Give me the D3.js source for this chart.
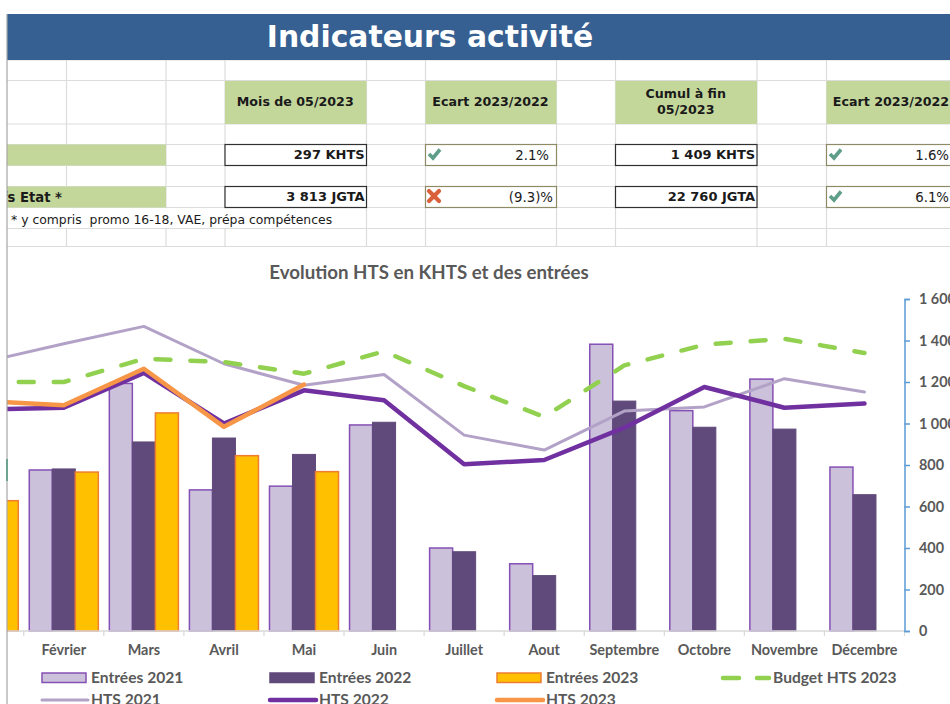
<!DOCTYPE html>
<html>
<head>
<meta charset="utf-8">
<script src="https://cdn.jsdelivr.net/npm/d3@7"></script>
<style>
  html, body { margin: 0; padding: 0; background: #fff; overflow: hidden; }
  svg { display: block; }
  .cell { font-family: "DejaVu Sans", sans-serif; fill: #1a1a1a; }
  .chart-text { font-family: Lato, sans-serif; fill: #595959; }
</style>
</head>
<body>
<svg id="sheet" width="950" height="704"></svg>
<script>
const months = ["Janvier", "Février", "Mars", "Avril", "Mai", "Juin", "Juillet", "Aout", "Septembre", "Octobre", "Novembre", "Décembre"];

// janvier 2021 et 2022 sont hors du cadre de la capture
const entrees2021 = [null, 776, 1193, 680, 698, 993, 400, 324, 1382, 1062, 1214, 790];
const entrees2022 = [null, 781, 911, 930, 851, 1006, 382, 267, 1108, 982, 973, 657];
const entrees2023 = [628, 766, 1051, 845, 768];

// HTS en KHTS, axe secondaire 0-400 masqué à gauche
const hts2021 = [324, 346, 367, 322, 296, 309, 236, 218, 265, 270, 304, 288];
const hts2022 = [267, 269, 311, 250, 290, 278, 201, 206, 245, 294, 269, 274];
const hts2023 = [277, 272, 316, 246, 297];
const budget2023 = [300, 300, 328, 324, 310, 337, 295, 258, 320, 345, 352, 335];

const rightTicks = [0, 200, 400, 600, 800, 1000, 1200, 1400, 1600];

const gridXs = [66.5, 166, 225, 366.5, 425.5, 556.5, 615.5, 757, 826.5];
const gridYs = [60, 80.5, 124, 144.5, 165.5, 186.5, 207.5, 228.5, 246.5];

const headerCells = [
    { x0: 225, x1: 366.5, lines: ["Mois de 05/2023"] },
    { x0: 425.5, x1: 556.5, lines: ["Ecart 2023/2022"] },
    { x0: 615.5, x1: 757, lines: ["Cumul à fin", "05/2023"] },
    { x0: 826.5, x1: 960, lines: ["Ecart 2023/2022"] }
];
const kpiRows = [
    { y0: 144.5, y1: 165.5, label: "", mois: "297 KHTS", ecartMois: "2.1%", okMois: true, cumul: "1 409 KHTS", ecartCumul: "1.6%", okCumul: true },
    { y0: 186.5, y1: 207.5, label: "fs Etat *", mois: "3 813 JGTA", ecartMois: "(9.3)%", okMois: false, cumul: "22 760 JGTA", ecartCumul: "6.1%", okCumul: true }
];

const svg = d3.select("#sheet");
const defs = svg.append("defs");
defs.append("clipPath").attr("id", "frame")
    .append("rect").attr("x", 7).attr("y", 0).attr("width", 943).attr("height", 704);

const root = svg.append("g").attr("clip-path", "url(#frame)");

// --- feuille excel ---
const grid = root.append("g").attr("stroke", "#dcdcdc").attr("stroke-width", 1.2);
gridYs.forEach(y => {
    grid.append("line").attr("x1", 7).attr("x2", 950).attr("y1", y).attr("y2", y);
});
gridXs.forEach(x => {
    grid.append("line").attr("x1", x).attr("x2", x).attr("y1", 60).attr("y2", 246.5);
});

root.append("rect").attr("x", 7).attr("y", 14).attr("width", 943).attr("height", 46).attr("fill", "#366092");
root.append("text")
    .attr("x", 430).attr("y", 47)
    .attr("text-anchor", "middle")
    .attr("font-family", "DejaVu Sans, sans-serif")
    .attr("font-weight", "bold")
    .attr("font-size", 29.8)
    .attr("fill", "#fff")
    .text("Indicateurs activité");

// le texte de la note déborde sur les cellules vides
root.append("rect").attr("x", 8).attr("y", 208.2).attr("width", 357).attr("height", 19.6).attr("fill", "#fff");

headerCells.forEach(c => {
    root.append("rect").attr("x", c.x0).attr("y", 81).attr("width", c.x1 - c.x0).attr("height", 43).attr("fill", "#c4d79b");
    const cx = (c.x0 + Math.min(c.x1, 959)) / 2;
    const startY = c.lines.length === 1 ? 106 : 98;
    c.lines.forEach((line, i) => {
        root.append("text").attr("class", "cell")
            .attr("x", c.x1 === 960 ? 891 : cx - 0.5).attr("y", startY + i * 16)
            .attr("text-anchor", "middle")
            .attr("font-weight", "bold").attr("font-size", 12.65)
            .text(line);
    });
});

const drawIcon = (x0, y0, ok) => {
    root.append("path")
        .attr("transform", `translate(${x0},${y0})`)
        .attr("d", ok ? "M2,7 L6,11 L13,2.5" : "M2,2 L12,12 M12,2 L2,12")
        .attr("fill", "none")
        .attr("stroke", ok ? "#5f9e88" : "#d9603b")
        .attr("stroke-width", ok ? 3.6 : 4.2)
        .attr("stroke-linecap", ok ? "butt" : "round");
};

kpiRows.forEach(r => {
    const h = r.y1 - r.y0;
    const base = r.y0 + 15;
    root.append("rect").attr("x", 7).attr("y", r.y0).attr("width", 159).attr("height", h).attr("fill", "#c4d79b");
    root.append("text").attr("class", "cell")
        .attr("x", 62).attr("y", base + 0.5).attr("text-anchor", "end")
        .attr("font-weight", "bold").attr("font-size", 13.2)
        .text(r.label);

    [[225, 366.5, r.mois], [615.5, 757, r.cumul]].forEach(v => {
        root.append("rect").attr("x", v[0]).attr("y", r.y0).attr("width", v[1] - v[0]).attr("height", h)
            .attr("fill", "#fff").attr("stroke", "#303030").attr("stroke-width", 1.2);
        root.append("text").attr("class", "cell")
            .attr("x", v[1] - 1.8).attr("y", base - 0.5).attr("text-anchor", "end")
            .attr("font-weight", "bold").attr("font-size", 13)
            .text(v[2]);
    });

    [[425.5, 556.5, r.ecartMois, r.okMois], [826.5, 960, r.ecartCumul, r.okCumul]].forEach(v => {
        root.append("rect").attr("x", v[0]).attr("y", r.y0).attr("width", v[1] - v[0]).attr("height", h)
            .attr("fill", "#fff").attr("stroke", "#8f8a66").attr("stroke-width", 1.2);
        drawIcon(v[0] + 1.5, r.y0 + 2.5, v[3]);
        const right = v[2].startsWith("(") ? 553 : (v[1] === 960 ? 949 : 549);
        root.append("text").attr("class", "cell")
            .attr("x", right).attr("y", base).attr("text-anchor", "end")
            .attr("font-size", 13.3).attr("fill", "#222")
            .text(v[2]);
    });
});

root.append("text").attr("class", "cell")
    .attr("x", 11).attr("y", 223.5)
    .attr("font-size", 12.4)
    .style("white-space", "pre")
    .text("* y compris  promo 16-18, VAE, prépa compétences");

// --- graphique ---
const x = d3.scaleBand().domain(months).range([-56.3, 904.5]);
const yBars = d3.scaleLinear().domain([0, 1600]).range([631, 299]);
const yHts = d3.scaleLinear().domain([0, 400]).range([631, 299]);
const barW = x.bandwidth() * 0.2875;
const barPad = (x.bandwidth() - 3 * barW) / 2;

root.append("text").attr("class", "chart-text")
    .attr("x", 429).attr("y", 279)
    .attr("text-anchor", "middle")
    .attr("font-weight", "bold").attr("font-size", 18.7)
    .text("Evolution HTS en KHTS et des entrées");

const barSeries = [
    { name: "Entrées 2021", values: entrees2021, fill: "#ccc1da", stroke: "#8550b5", sw: 1.5 },
    { name: "Entrées 2022", values: entrees2022, fill: "#604a7b", stroke: "#604a7b", sw: 1 },
    { name: "Entrées 2023", values: entrees2023, fill: "#ffc000", stroke: "#ed7d31", sw: 1.5 }
];
const lineSeries = [
    { name: "HTS 2021", values: hts2021, stroke: "#b3a2c7", sw: 3 },
    { name: "HTS 2022", values: hts2022, stroke: "#7030a0", sw: 4.5 },
    { name: "HTS 2023", values: hts2023, stroke: "#f79646", sw: 4.5 },
    { name: "Budget HTS 2023", values: budget2023, stroke: "#92d050", sw: 4.5, dash: "15,20" }
];

barSeries.forEach((s, i) => {
    root.append("g").selectAll("rect")
        .data(s.values.map((v, k) => ({ month: months[k], v })).filter(d => d.v !== null))
        .enter().append("rect")
        .attr("x", d => x(d.month) + barPad + i * barW)
        .attr("y", d => yBars(d.v))
        .attr("width", barW)
        .attr("height", d => yBars(0) - yBars(d.v))
        .attr("fill", s.fill)
        .attr("stroke", s.stroke)
        .attr("stroke-width", s.sw);
});

const axisBottom = root.append("g")
    .attr("transform", "translate(0,631)")
    .call(d3.axisBottom(x).tickSize(0).tickPadding(14));
axisBottom.select(".domain").remove();
axisBottom.selectAll("text")
    .attr("class", "chart-text")
    .attr("font-weight", "bold").attr("font-size", 14.4);
root.append("line").attr("x1", 7).attr("x2", 904.5).attr("y1", 631).attr("y2", 631)
    .attr("stroke", "#d9d9d9").attr("stroke-width", 1.5);
root.append("g").selectAll("line")
    .data(months.slice(1).concat("end"))
    .enter().append("line")
    .attr("x1", d => d === "end" ? x.range()[1] : x(d))
    .attr("x2", d => d === "end" ? x.range()[1] : x(d))
    .attr("y1", 631).attr("y2", 636)
    .attr("stroke", "#d9d9d9").attr("stroke-width", 1.2);

const axisRight = root.append("g")
    .attr("transform", "translate(904.5,0)")
    .call(d3.axisRight(yBars)
        .tickValues(rightTicks)
        .tickSize(5.5)
        .tickPadding(9)
        .tickFormat(d => d3.format(",")(d).replace(",", " ")));
axisRight.select(".domain").attr("stroke", "#5b9bd5").attr("stroke-width", 1.5);
axisRight.selectAll("line").attr("stroke", "#5b9bd5").attr("stroke-width", 1.5);
axisRight.selectAll("text")
    .attr("class", "chart-text")
    .attr("font-weight", "bold").attr("font-size", 14.4);

const line = d3.line()
    .x((d, i) => x(months[i]) + x.bandwidth() / 2)
    .y(d => yHts(d));

lineSeries.forEach(s => {
    root.append("path")
        .attr("d", line(s.values))
        .attr("fill", "none")
        .attr("stroke", s.stroke)
        .attr("stroke-width", s.sw)
        .attr("stroke-linecap", "round")
        .attr("stroke-linejoin", "round")
        .attr("stroke-dasharray", s.dash || null);
});

// --- légende ---
const legendBars = [
    { s: barSeries[0], x: 42 },
    { s: barSeries[1], x: 270 },
    { s: barSeries[2], x: 497 }
];
legendBars.forEach(l => {
    root.append("rect")
        .attr("x", l.x).attr("y", 673).attr("width", 44).attr("height", 9.5)
        .attr("fill", l.s.fill).attr("stroke", l.s.stroke).attr("stroke-width", 1.5);
    root.append("text").attr("class", "chart-text")
        .attr("x", l.x + 49).attr("y", 683)
        .attr("font-weight", "bold").attr("font-size", 15.6)
        .text(l.s.name);
});
const legendLines = [
    { s: lineSeries[3], x: 723, y: 678, textX: 773 },
    { s: lineSeries[0], x: 42, y: 700, textX: 91 },
    { s: lineSeries[1], x: 270, y: 700, textX: 319 },
    { s: lineSeries[2], x: 497, y: 700, textX: 546 }
];
legendLines.forEach(l => {
    root.append("line")
        .attr("x1", l.x).attr("x2", l.x + 46).attr("y1", l.y).attr("y2", l.y)
        .attr("stroke", l.s.stroke).attr("stroke-width", l.s.sw)
        .attr("stroke-linecap", "round")
        .attr("stroke-dasharray", l.s.dash ? "16,18" : null);
    root.append("text").attr("class", "chart-text")
        .attr("x", l.textX).attr("y", l.y + 5)
        .attr("font-weight", "bold").attr("font-size", 15.6)
        .text(l.s.name);
});

// bord gauche de la capture
svg.append("line").attr("x1", 7).attr("x2", 7).attr("y1", 14).attr("y2", 704)
    .attr("stroke", "#a6a6a6").attr("stroke-width", 1.2);
svg.append("line").attr("x1", 7).attr("x2", 7).attr("y1", 459).attr("y2", 481)
    .attr("stroke", "#2e8b6a").attr("stroke-width", 1.2);
</script>
</body>
</html>
